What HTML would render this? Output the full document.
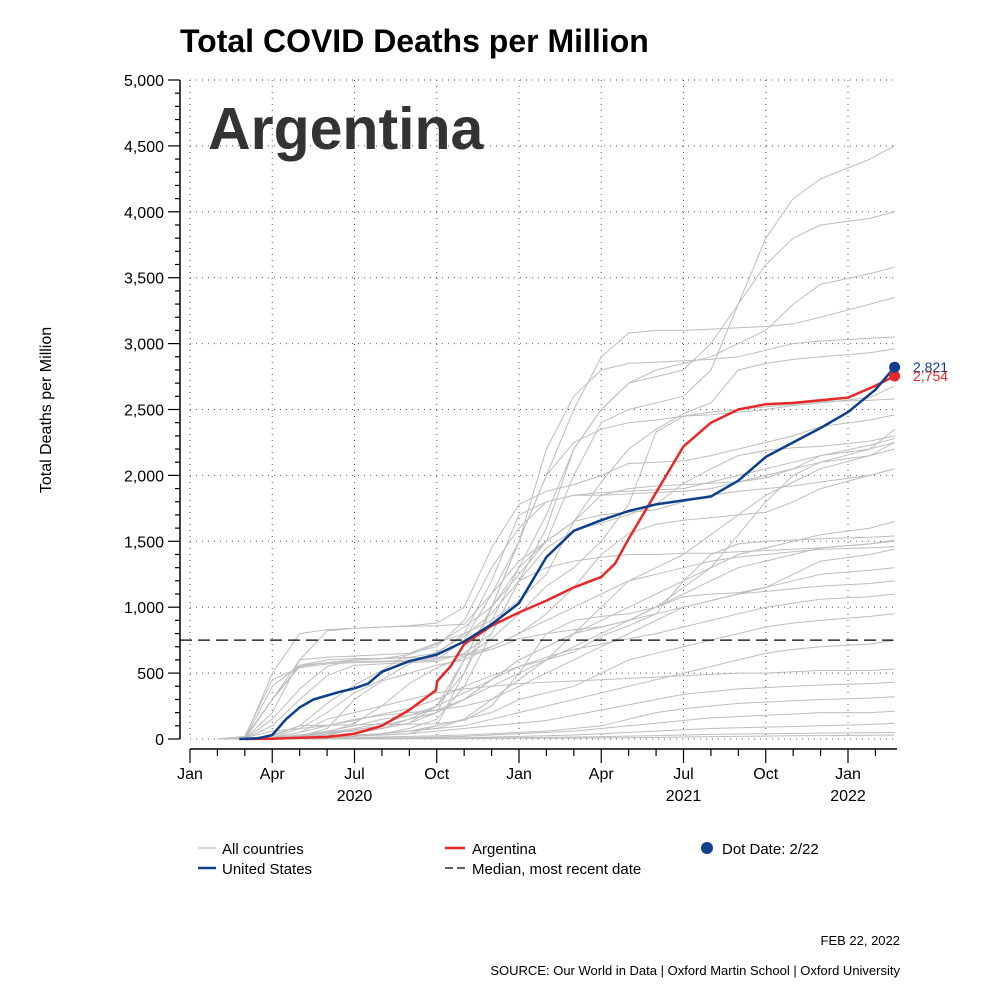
<!DOCTYPE html>
<html><head><meta charset="utf-8"><style>
body{margin:0;background:#fff;}
svg text{font-family:"Liberation Sans",sans-serif;}
</style></head><body>
<svg id="chart" width="1000" height="1000" viewBox="0 0 1000 1000" xmlns="http://www.w3.org/2000/svg">
<text x="180" y="52" font-size="32" font-weight="bold" fill="#000">Total COVID Deaths per Million</text>
<text x="208" y="149" font-size="59" font-weight="bold" fill="#333">Argentina</text>
<text transform="translate(51 410) rotate(-90)" text-anchor="middle" font-size="16" fill="#000">Total Deaths per Million</text>
<g id="grid"></g><g id="axes"></g><g id="gray"></g><g id="main"></g>
<g>
<line x1="198" y1="848" x2="216" y2="848" stroke="#bbb" stroke-width="1.2"/>
<text x="222" y="854" font-size="15">All countries</text>
<line x1="198" y1="868" x2="216" y2="868" stroke="#0d3f8c" stroke-width="2.5"/>
<text x="222" y="874" font-size="15">United States</text>
<line x1="445" y1="848" x2="465" y2="848" stroke="#e8272a" stroke-width="2.5"/>
<text x="472" y="854" font-size="15">Argentina</text>
<line x1="445" y1="868" x2="465" y2="868" stroke="#000" stroke-width="1.2" stroke-dasharray="8 4"/>
<text x="472" y="874" font-size="15">Median, most recent date</text>
<circle cx="707" cy="848" r="6" fill="#0d3f8c"/>
<text x="722" y="854" font-size="15">Dot Date: 2/22</text>
</g>
<text x="900" y="945" font-size="13" text-anchor="end">FEB 22, 2022</text>
<text x="900" y="975" font-size="13" text-anchor="end">SOURCE: Our World in Data | Oxford Martin School | Oxford University</text>
</svg>
<script>
const yTicks=[0,500,1000,1500,2000,2500,3000,3500,4000,4500,5000];
const xTickLabels=["Jan","Apr","Jul","Oct","Jan","Apr","Jul","Oct","Jan"];
const yearLabels=[["2020",6],["2021",18],["2022",24]];
const months=[1,2,3,4,5,6,7,8,9,10,11,12,13,14,15,16,17,18,19,20,21,22,23,24.8,25.7];
const grayA=[0,0,200,600,820,840,850,855,860,870,1100,1500,2000,2500,2900,3080,3100,3100,3110,3120,3130,3150,3200,3300,3350];
const grayB=[0,0,5,10,20,40,80,120,200,600,1000,1300,1500,2000,2400,2500,2550,2600,2800,3300,3800,4100,4250,4400,4500];
const grayC=[0,0,5,10,15,20,40,80,150,400,800,1200,1600,2200,2500,2700,2750,2800,3000,3300,3600,3800,3900,3950,4000];
const grayD=[0,0,10,30,50,80,120,180,250,500,900,1300,1700,2200,2500,2700,2800,2850,2900,3000,3100,3300,3450,3530,3580];
const grayE=[0,0,5,20,30,30,30,40,100,500,1000,1500,2200,2600,2800,2850,2860,2870,2880,2900,2950,3000,3020,3040,3050];
const grayF=[0,0,10,30,50,60,80,120,250,600,1000,1500,2000,2250,2350,2400,2420,2450,2480,2500,2520,2540,2560,2570,2580];
const grayG=[0,0,300,600,620,630,640,650,700,900,1300,1600,1800,1850,1870,1880,1890,1900,1950,2000,2050,2100,2150,2200,2250];
const grayH=[0,0,400,560,600,610,610,620,650,800,1200,1700,1800,1850,1850,1860,1870,1880,1900,1950,2000,2050,2100,2200,2350];
const grayI=[0,20,450,540,570,580,585,590,600,750,1100,1350,1500,1650,1850,1900,1920,1930,1940,1950,1980,2050,2150,2230,2280];
const grayJ=[0,10,300,550,580,600,610,640,720,850,1000,1250,1500,1650,1700,1720,1740,1800,1850,1880,1900,1920,1950,2000,2050];
const grayK=[0,0,500,800,830,840,850,860,880,1000,1450,1780,1880,1930,2000,2090,2100,2110,2150,2200,2250,2300,2370,2420,2460];
const grayL=[0,0,10,80,200,350,450,570,660,780,950,1200,1450,1580,1640,1700,1780,1940,2050,2150,2190,2210,2220,2260,2300];
const grayM=[0,0,20,100,270,410,520,650,730,800,900,1050,1250,1650,1950,2200,2350,2470,2550,2800,2850,2880,2900,2930,2960];
const grayN=[0,0,5,20,50,120,250,420,540,620,760,950,1160,1300,1500,1780,2330,2450,2460,2480,2500,2530,2550,2590,2680];
const grayO=[0,0,5,20,80,300,440,500,560,600,700,800,950,1150,1400,1560,1630,1660,1680,1700,1720,1800,1900,2000,2050];
const grayP=[0,0,2,10,30,70,100,150,200,300,450,600,700,800,850,900,1000,1150,1300,1550,1800,2000,2100,2150,2200];
const grayQ=[0,0,5,10,20,30,40,60,80,150,300,450,600,800,1000,1200,1300,1400,1550,1700,1850,1950,2050,2150,2250];
const grayR=[0,0,5,20,40,70,100,150,200,300,450,600,700,800,900,1000,1100,1200,1300,1400,1450,1500,1550,1600,1650];
const grayS=[0,0,10,30,60,100,150,180,220,300,400,500,600,700,800,900,1000,1100,1200,1300,1350,1400,1450,1480,1500];
const grayT=[0,0,300,560,580,590,590,600,610,640,700,800,900,1000,1100,1200,1250,1300,1350,1380,1400,1420,1440,1450,1460];
const grayU=[0,0,100,300,480,560,570,580,590,650,800,1200,1300,1350,1380,1400,1400,1410,1410,1420,1430,1440,1450,1480,1510];
const grayV=[0,0,10,50,100,150,180,200,220,250,300,400,500,600,700,800,900,1000,1050,1100,1150,1200,1250,1280,1300];
const grayW=[0,0,5,10,20,40,80,150,250,350,450,550,620,680,720,760,800,850,900,950,1000,1030,1060,1080,1100];
const grayX=[0,0,30,100,105,108,110,112,115,140,250,500,800,900,930,950,1000,1080,1100,1110,1150,1250,1350,1400,1440];
const grayY=[0,0,5,10,15,20,40,60,100,150,200,300,350,400,500,600,650,700,750,800,850,880,900,930,950];
const grayZ=[0,0,2,5,10,20,40,60,80,100,150,200,250,300,350,400,450,500,550,600,650,680,700,720,750];
const grayAA=[0,0,10,50,150,200,250,300,350,380,400,420,430,440,450,460,470,480,490,500,500,510,520,520,530];
const grayAB=[0,0,2,5,10,20,30,40,60,80,100,120,140,180,220,260,300,340,360,380,390,400,410,420,430];
const grayAC=[0,0,2,5,8,10,15,20,25,30,40,50,60,80,100,150,200,230,250,270,280,290,300,310,320];
const grayAD=[0,0,1,2,3,5,8,10,15,20,30,40,50,60,80,100,120,140,160,170,180,190,200,200,210];
const grayAE=[0,0,1,2,3,4,5,6,8,10,15,20,25,30,40,50,60,70,80,85,90,95,100,110,120];
const grayAF=[0,0,0,1,1,2,3,4,5,6,8,10,12,15,18,22,26,30,35,38,40,42,45,48,50];
const grayAG=[0,0,0,0,1,1,1,2,2,3,4,5,6,7,8,10,12,15,18,20,22,24,26,28,30];
const grayAH=[0,10,60,80,100,140,190,230,300,400,480,550,600,660,780,860,950,1200,1400,1480,1500,1510,1520,1530,1540];
const grayAI=[0,0,150,380,550,600,610,615,620,630,680,760,800,830,850,900,950,1000,1050,1100,1120,1140,1160,1180,1200];
const graySeries=[grayA,grayB,grayC,grayD,grayE,grayF,grayG,grayH,grayI,grayJ,grayK,grayL,grayM,grayN,grayO,grayP,grayQ,grayR,grayS,grayT,grayU,grayV,grayW,grayX,grayY,grayZ,grayAA,grayAB,grayAC,grayAD,grayAE,grayAF,grayAG,grayAH,grayAI];
const usMonths=[1.8,2.5,3,3.5,4,4.5,5,5.5,6,6.5,7,8,9,10,11,12,13,14,15,16,17,18,19,20,21,22,23,24,25,25.7];
const usValues=[0,5,30,150,240,300,330,360,385,420,510,590,640,740,870,1030,1380,1580,1660,1730,1780,1810,1840,1960,2140,2250,2360,2480,2650,2821];
const arMonths=[2,3,4,5,6,7,8,8.97,9.02,9.5,10,11,12,13,14,15,15.5,16,17,18,19,20,21,22,23,24,25,25.7];
const arValues=[0,2,10,15,40,100,220,370,440,550,720,860,960,1050,1150,1230,1330,1520,1870,2220,2400,2500,2540,2550,2570,2590,2680,2754];
const medianValue=750;
const usLast=2821, arLast=2754;

const NS="http://www.w3.org/2000/svg";
const X=m=>190+m*(658/24);
const Y=v=>739-v*0.1318;
function mk(tag,attrs,parent){const e=document.createElementNS(NS,tag);for(const k in attrs)e.setAttribute(k,attrs[k]);parent.appendChild(e);return e;}
const grid=document.getElementById('grid'),axes=document.getElementById('axes'),gray=document.getElementById('gray'),main=document.getElementById('main');
yTicks.forEach(v=>{
  const l=mk('line',{x1:190,x2:897,y1:Y(v),y2:Y(v),stroke:'#555','stroke-width':1,'stroke-dasharray':'1 5'},grid);
  
  
  const t=mk('text',{x:164,y:Y(v)+6,'font-size':16,'text-anchor':'end'},axes);
  t.textContent=v.toLocaleString('en-US');
  
  
});
for(let v=0;v<=5000;v+=100){const major=v%500===0;mk('line',{x1:major?168:175,x2:180,y1:Y(v),y2:Y(v),stroke:'#000','stroke-width':1.2},axes);}
const ya=mk('line',{x1:180,x2:180,y1:Y(5000),y2:Y(0),stroke:'#000','stroke-width':1.5},axes);


const xa=mk('line',{x1:190,x2:897,y1:749,y2:749,stroke:'#000','stroke-width':1.5},axes);


for(let m=0;m<=25;m++){const major=m%3===0;mk('line',{x1:X(m),x2:X(m),y1:749,y2:major?763:756,stroke:'#000','stroke-width':1.2},axes);}
xTickLabels.forEach((s,i)=>{
  const m=i*3;
  const g=mk('line',{x1:X(m),x2:X(m),y1:Y(5000),y2:Y(0),stroke:'#555','stroke-width':1,'stroke-dasharray':'1 5'},grid);
  
  
  const t=mk('text',{x:X(m),y:779,'font-size':16,'text-anchor':'middle'},axes);
  t.textContent=s;
  
  
});
yearLabels.forEach(([s,m])=>{
  const t=mk('text',{x:X(m),y:801,'font-size':16,'text-anchor':'middle'},axes);
  t.textContent=s;
  
  
});
function pts(ms,vs){return ms.map((m,i)=>X(m).toFixed(1)+','+Y(vs[i]).toFixed(1)).join(' ');}
graySeries.forEach(s=>{
  const p=mk('polyline',{points:pts(months,s),fill:'none',stroke:'#bdbdbd','stroke-width':1,'stroke-linejoin':'round'},gray);
  
  
});
const med=mk('line',{x1:180,x2:893,y1:Y(medianValue),y2:Y(medianValue),stroke:'#000','stroke-width':1.3,'stroke-dasharray':'12 6'},main);


const ar=mk('polyline',{points:pts(arMonths,arValues),fill:'none',stroke:'#e8272a','stroke-width':2.5,'stroke-linejoin':'round'},main);


const us=mk('polyline',{points:pts(usMonths,usValues),fill:'none',stroke:'#0d3f8c','stroke-width':2.5,'stroke-linejoin':'round'},main);


const endM=25.7;
const ad=mk('circle',{cx:X(endM),cy:Y(arLast),r:5.5,fill:'#e8272a'},main);


const ud=mk('circle',{cx:X(endM),cy:Y(usLast),r:5.5,fill:'#0d3f8c'},main);


const ut=mk('text',{x:913,y:Y(usLast)+5,'font-size':14,fill:'#0d3f8c'},main);
ut.textContent=usLast.toLocaleString('en-US');


const at=mk('text',{x:913,y:Y(arLast)+5,'font-size':14,fill:'#e8272a'},main);
at.textContent=arLast.toLocaleString('en-US');


</script>
</body></html>
